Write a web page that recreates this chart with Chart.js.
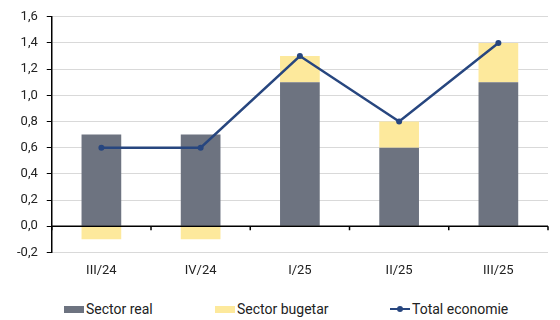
<!DOCTYPE html>
<html>
<head>
<meta charset="utf-8">
<script src="https://cdn.jsdelivr.net/npm/chart.js@4"></script>
<style>
  html, body { margin: 0; padding: 0; background: #fff; }
  #wrap { position: relative; width: 560px; height: 320px; font-family: Roboto, sans-serif; }
  #plot { position: absolute; left: 0; top: 0; width: 560px; height: 292px; }
  .key { position: absolute; top: 301px; height: 16px; line-height: 16px; font-size: 14px; color: #222; white-space: nowrap; }
  .key i { position: absolute; left: 0; }
  .key span { position: absolute; left: 22px; }
</style>
</head>
<body>
<div id="wrap">
  <div id="plot"><canvas id="chart"></canvas></div>
  <div id="legend"></div>
</div>
<script>
// Quarterly contributions, pp
const QUARTERS = ['III/24', 'IV/24', 'I/25', 'II/25', 'III/25'];
const SECTOR_REAL = [0.7, 0.7, 1.1, 0.6, 1.1];
const SECTOR_BUGETAR = [-0.1, -0.1, 0.2, 0.2, 0.3];
const TOTAL_ECONOMIE = [0.6, 0.6, 1.3, 0.8, 1.4];

const GRAY = '#6d7380';
const YELLOW = '#fde99c';
const NAVY = '#27467f';
const FONT = { family: 'Roboto', size: 13 };

// axis line at zero with small ticks between categories
const zeroAxis = {
  id: 'zeroAxis',
  afterDatasetsDraw(chart) {
    const { ctx, chartArea, scales } = chart;
    const y0 = scales.y.getPixelForValue(0);
    const n = QUARTERS.length;
    const step = (chartArea.right - chartArea.left) / n;
    ctx.save();
    ctx.strokeStyle = '#000';
    ctx.lineWidth = 1.5;
    ctx.beginPath();
    ctx.moveTo(chartArea.left, y0);
    ctx.lineTo(chartArea.right, y0);
    for (let i = 0; i <= n; i++) {
      const x = chartArea.left + i * step;
      ctx.moveTo(x, y0);
      ctx.lineTo(x, y0 + 4);
    }
    ctx.stroke();
    ctx.restore();
  }
};

const chart = new Chart(document.getElementById('chart'), {
  data: {
    labels: QUARTERS,
    datasets: [
      { type: 'line', label: 'Total economie', data: TOTAL_ECONOMIE, borderColor: NAVY,
        backgroundColor: NAVY, borderWidth: 2.5, pointRadius: 3, pointBorderWidth: 0,
        pointHoverRadius: 3, tension: 0, order: 0 },
      { type: 'bar', label: 'Sector real', data: SECTOR_REAL, backgroundColor: GRAY,
        stack: 's', barPercentage: 0.8, categoryPercentage: 0.5, order: 1 },
      { type: 'bar', label: 'Sector bugetar', data: SECTOR_BUGETAR, backgroundColor: YELLOW,
        stack: 's', barPercentage: 0.8, categoryPercentage: 0.5, order: 1 }
    ]
  },
  options: {
    responsive: true,
    maintainAspectRatio: false,
    animation: false,
    layout: { padding: { top: 2, right: 12, left: 8, bottom: 2 } },
    plugins: {
      tooltip: { enabled: false },
      legend: { display: false }
    },
    scales: {
      x: {
        stacked: true,
        grid: { display: false, drawTicks: false },
        border: { display: false },
        ticks: { font: FONT, color: '#222', padding: 11 }
      },
      y: {
        stacked: true,
        min: -0.2,
        max: 1.6,
        grid: { color: '#d9d9d9', tickColor: '#000', tickLength: 5 },
        border: { display: true, color: '#000', width: 1.5 },
        ticks: {
          stepSize: 0.2,
          font: FONT,
          color: '#222',
          padding: 9,
          callback: v => v.toFixed(1).replace('.', ',')
        }
      }
    }
  },
  plugins: [zeroAxis]
});

// legend row under the plot
const KEYS = [
  { ds: 1, left: 64, swatch: 'box' },
  { ds: 2, left: 215, swatch: 'box' },
  { ds: 0, left: 390, swatch: 'line' }
];
const legend = document.getElementById('legend');
KEYS.forEach(function (k) {
  const ds = chart.data.datasets[k.ds];
  const item = document.createElement('div');
  item.className = 'key';
  item.style.left = k.left + 'px';
  let mark;
  if (k.swatch === 'box') {
    mark = '<i style="top:5px;width:20px;height:7px;background:' + ds.backgroundColor + '"></i>';
  } else {
    mark = '<i style="top:7px;width:20px;height:2px;background:' + ds.borderColor + '"></i>' +
           '<i style="top:5px;left:7px;width:6px;height:6px;border-radius:50%;background:' + ds.borderColor + '"></i>';
  }
  item.innerHTML = mark + '<span>' + ds.label + '</span>';
  legend.appendChild(item);
});
</script>
</body>
</html>
